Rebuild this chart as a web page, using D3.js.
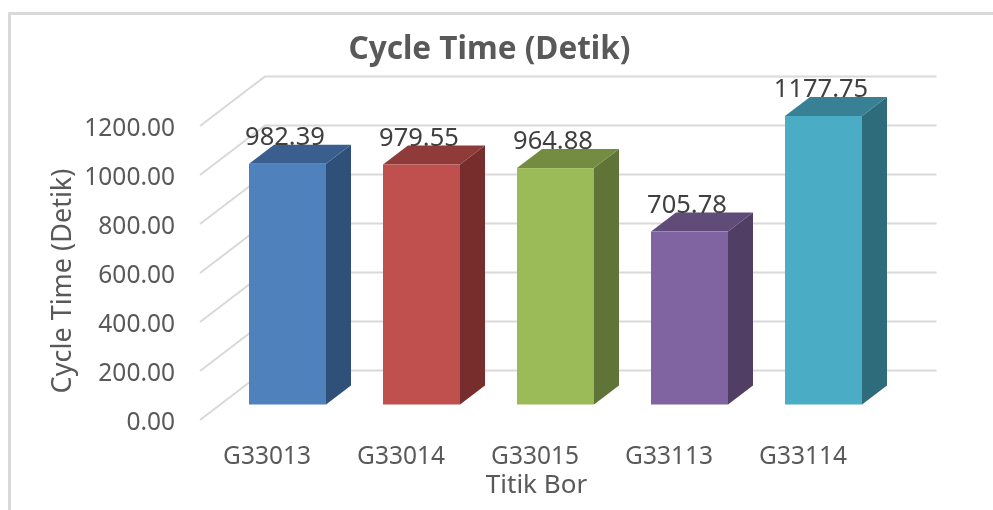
<!DOCTYPE html>
<html><head><meta charset="utf-8">
<script src="https://cdn.jsdelivr.net/npm/d3@7"></script>
<style>
html,body{margin:0;padding:0;background:#fff}
svg{display:block;filter:blur(0.4px)}
text{font-family:"Noto Sans",sans-serif}
</style></head><body>
<svg id="c" width="993" height="510"></svg>
<script>
const categories = ["G33013","G33014","G33015","G33113","G33114"];
const values = [982.39,979.55,964.88,705.78,1177.75];
const frontColors = ["#4f81bd","#c0504d","#9bbb59","#8064a2","#4bacc6"];
const topColors = ["#3a5f8e","#8f3b39","#748c42","#604b79","#388194"];
const sideColors = ["#2f5078","#772d2c","#607437","#503e64","#2e6b7b"];
const yTicks = [0,200,400,600,800,1000,1200];
const titleText = "Cycle Time (Detik)", yTitle = "Cycle Time (Detik)", xTitle = "Titik Bor";

const svg = d3.select("#c");
const fmt = d3.format(".2f");

// plot-frame layout
const wallDX = 65, wallDY = 49.5, wallRight = 936.5;
const barDX = 25, barDY = 19, barBaseLift = 15.5;
const y = d3.scaleLinear().domain([0,1200]).range([420,126]);
const x = d3.scaleBand().domain(categories).range([249,862]).paddingInner(57/134).paddingOuter(0);
const labelX = d3.scaleBand().domain(categories).range([228.5,841.5]).paddingInner(57/134).paddingOuter(0);

// outer chart border (cropped)
svg.append("path").attr("d","M9.5,510V13.5H993").attr("fill","none").attr("stroke","#d9d9d9").attr("stroke-width",3);

// gridlines: side wall then back wall
const grid = svg.append("g").attr("stroke","#d9d9d9").attr("stroke-width",2).attr("fill","none");
grid.selectAll("path").data(yTicks).join("path")
  .attr("d",t=>{const yy=y(t);return `M200,${yy}L${200+wallDX},${yy-wallDY}H${wallRight}`;});

// axes
const yAxis = svg.append("g").attr("transform","translate(200,0)")
  .call(d3.axisLeft(y).tickValues(yTicks).tickFormat(fmt).tickSize(0).tickPadding(25));
yAxis.select(".domain").remove();
yAxis.selectAll("text").attr("font-size",24.5).attr("fill","#595959").attr("dy",9).attr("y",0);

const xAxis = svg.append("g").attr("transform","translate(0,440)")
  .call(d3.axisBottom(labelX).tickSize(0).tickPadding(0));
xAxis.select(".domain").remove();
xAxis.selectAll("text").attr("font-size",24.5).attr("fill","#595959").attr("dy",0).attr("y",23.5);

// bars
const bars = svg.selectAll("g.bar").data(categories.map((c,i)=>({c,v:values[i],i}))).join("g").attr("class","bar");
const baseY = y(0)-barBaseLift;
const topY = d => y(d.v)-barBaseLift;
bars.append("path").attr("fill",d=>sideColors[d.i]).attr("d",d=>{
  const r=x(d.c)+x.bandwidth();
  return `M${r},${baseY}L${r+barDX},${baseY-barDY}V${topY(d)-barDY}L${r},${topY(d)}Z`;});
bars.append("path").attr("fill",d=>topColors[d.i]).attr("d",d=>{
  const l=x(d.c),r=l+x.bandwidth(),t=topY(d);
  return `M${l},${t}L${l+barDX},${t-barDY}H${r+barDX}L${r},${t}Z`;});
bars.append("rect").attr("fill",d=>frontColors[d.i])
  .attr("x",d=>x(d.c)).attr("width",x.bandwidth()).attr("y",topY).attr("height",d=>baseY-topY(d));
bars.append("text").attr("text-anchor","middle").attr("font-size",25.5).attr("fill","#404040")
  .attr("x",d=>x(d.c)+x.bandwidth()/2-2.5).attr("y",d=>topY(d)-barDY).text(d=>fmt(d.v));

// titles
svg.append("text").attr("x",489.5).attr("y",59).attr("text-anchor","middle").attr("font-size",31.5).attr("font-weight",700).attr("fill","#595959").text(titleText);
svg.append("text").attr("transform","translate(71,281) rotate(-90)").attr("text-anchor","middle").attr("font-size",27).attr("fill","#595959").text(yTitle);
svg.append("text").attr("x",536.5).attr("y",493).attr("text-anchor","middle").attr("font-size",26).attr("fill","#595959").text(xTitle);
</script>
</body></html>
